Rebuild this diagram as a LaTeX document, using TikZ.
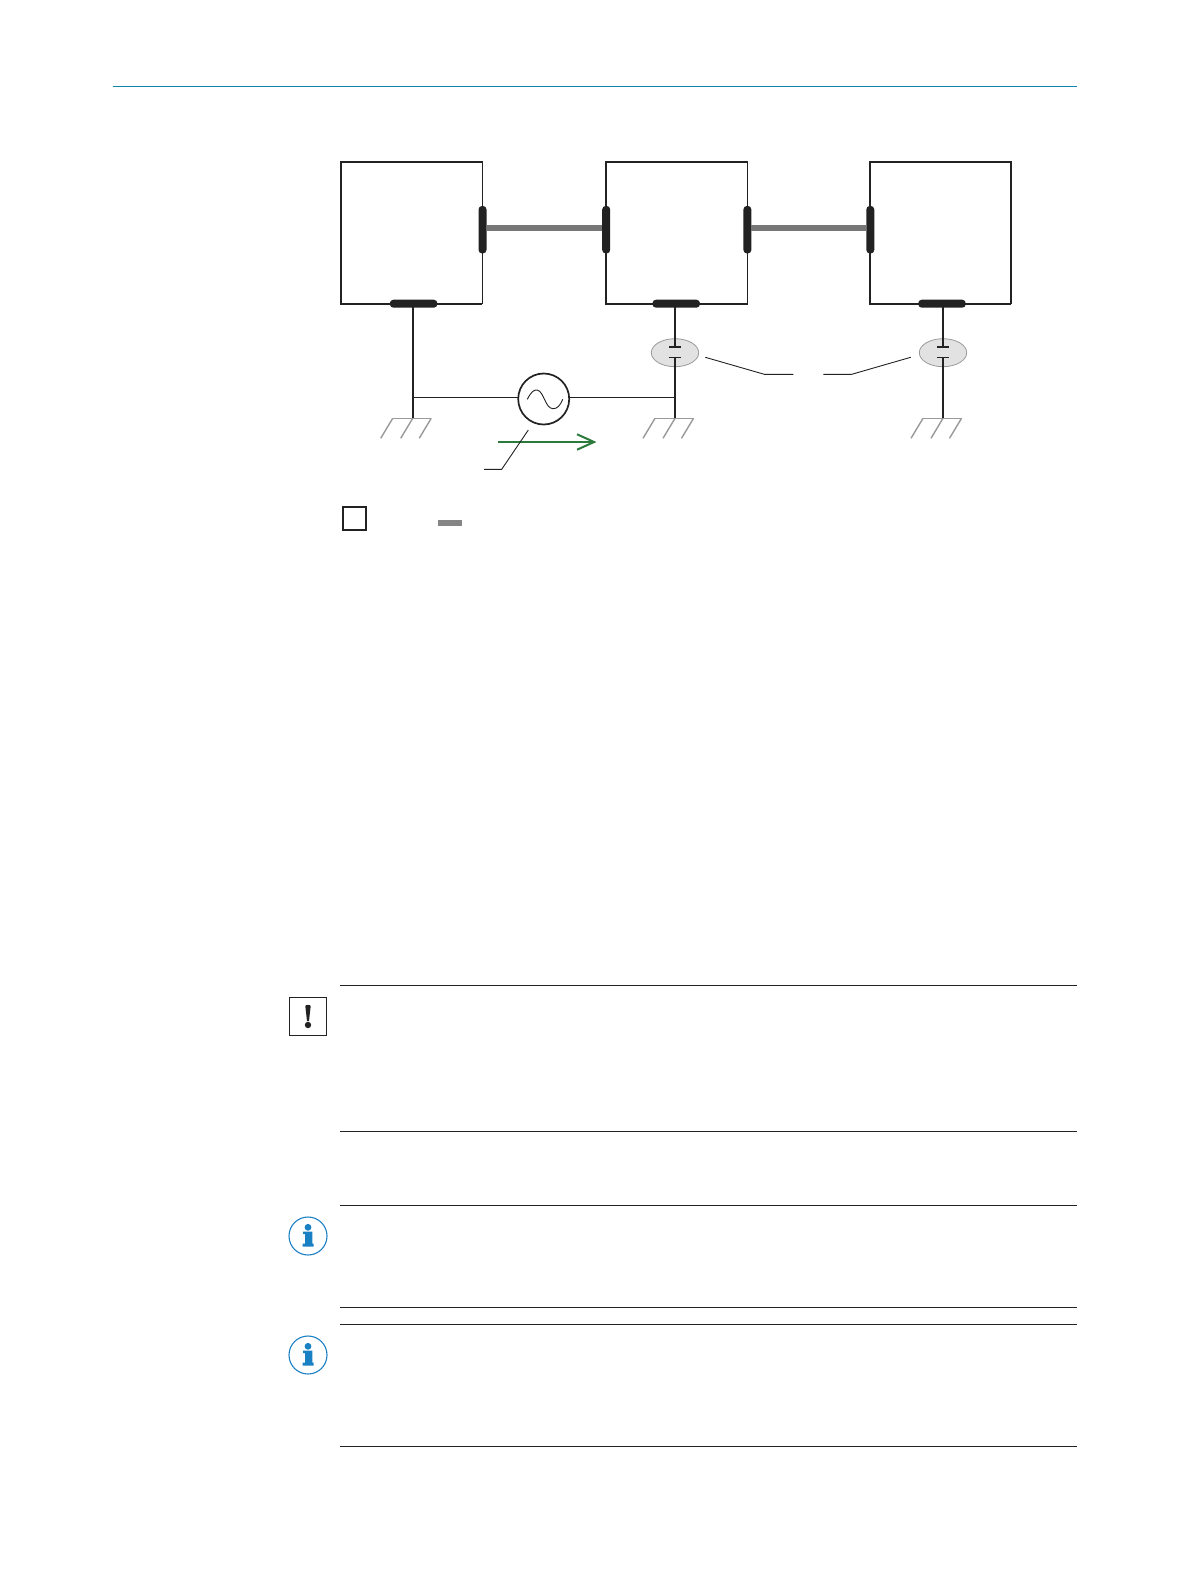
\documentclass[tikz,border=0pt]{standalone}
\usepackage{tikz}
\usetikzlibrary{arrows.meta,shapes.geometric}
\definecolor{inkblack}{HTML}{222222}
\definecolor{cablegray}{HTML}{777777}
\definecolor{earthgray}{HTML}{9A9A9A}
\definecolor{capfill}{HTML}{E2E2E2}
\definecolor{flowgreen}{HTML}{2B7A3B}
\definecolor{headblue}{HTML}{0F86A8}
\definecolor{infoblue}{HTML}{1A80C4}
\tikzstyle{unit} = [draw=inkblack,line width=0.65pt,minimum size=70.8pt,inner sep=0pt,outer sep=0pt]
\tikzstyle{frame} = [draw=inkblack,line width=1.1pt,line join=miter]
\tikzstyle{vport} = [fill=inkblack,rounded corners=1.8pt,minimum width=4pt,minimum height=23.8pt,inner sep=0pt,outer sep=0pt]
\tikzstyle{hport} = [fill=inkblack,rounded corners=1.8pt,minimum width=23.8pt,minimum height=4pt,inner sep=0pt,outer sep=0pt]
\tikzstyle{cable} = [draw=cablegray,line width=3pt]
\tikzstyle{lead} = [draw=inkblack,line width=1pt]
\tikzstyle{wire} = [draw=inkblack,line width=0.6pt]
\tikzstyle{leader} = [draw=inkblack,line width=0.45pt]
\tikzstyle{earth} = [draw=earthgray,line width=0.7pt]
\tikzstyle{capring} = [ellipse,draw=earthgray,fill=capfill,line width=0.4pt,minimum width=23.7pt,minimum height=14pt,inner sep=0pt,outer sep=0pt]
\tikzstyle{plate} = [fill=inkblack,minimum width=6pt,minimum height=0.8pt,inner sep=0pt,outer sep=0pt]
\tikzstyle{generator} = [circle,draw=inkblack,line width=0.85pt,minimum size=25.5pt,inner sep=0pt,outer sep=0pt]
\tikzstyle{flow} = [draw=flowgreen,line width=1pt,-{Straight Barb[length=8.5pt,width=7.7pt]}]
\tikzstyle{rule} = [draw=inkblack,line width=0.55pt]
\tikzstyle{hint} = [draw=infoblue,line width=0.55pt,minimum size=19pt,circle,inner sep=0pt,outer sep=0pt]
\begin{document}
\begin{tikzpicture}[x=0.5pt,y=-0.5pt]
	\useasboundingbox (0,0) rectangle (1191,1584);

	% page head and the rules round the notes
	\draw[headblue,line width=0.65pt] (113.3,86.5) -- (1077.3,86.5);
	\foreach \y in {985.5,1131.5,1205.5,1307.5,1324.5,1446.5}
	\draw[rule] (340,\y) -- (1077,\y);

	% First the three units
	\foreach \pos/\name in {{(411.5,232.8)/unita}, {(676.7,232.8)/unitb}, {(940.5,232.8)/unitc}}
	\node[unit] (\name) at \pos {};
	\foreach \name in {unita,unitb,unitc}
	\path[frame] (\name.north east) -- (\name.north west) -- (\name.south west) -- (\name.south east);
	\path[frame] (unitc.north east) -- (unitc.south east);

	% Ports on the sides and cables between them
	\foreach \pos/\name in {{(482.5,229.7)/porta}, {(606.2,229.7)/portb}, {(747.4,229.7)/portc}, {(870.3,229.7)/portd}}
	\node[vport] (\name) at \pos {};
	\coordinate (cableline) at (0,228);
	\foreach \source/\dest in {porta/portb, portc/portd}
	\path[cable] (\source.east |- cableline) -- (\dest.west |- cableline);

	% Ports below, then the capacitors
	\foreach \pos/\name in {{(413.6,303.7)/downa}, {(676.2,303.7)/downb}, {(942,303.7)/downc}}
	\node[hport] (\name) at \pos {};
	\foreach \x/\name in {675/b, 943/c}{
		\node[capring] (cap\name) at (\x,352.7) {};
		\node[plate] (upper\name) at (\x,347) {};
		\node[plate] (lower\name) at (\x,357.3) {};
	}

	% Earth symbols
	\foreach \x/\name in {412.7/a, 675/b, 943/c}{
		\coordinate (earth\name) at (\x,418.3);
		\draw[earth] ({\x-20},418.3) -- ({\x+18.5},418.3);
		\foreach \dx in {-20,0,18.5}
		\draw[earth] ({\x+\dx},418.3) -- ({\x+\dx-12},438.3);
	}
	\path[lead] (eartha) -- (eartha |- downa);
	\path[lead] (earthb) -- (lowerb);
	\path[lead] (upperb) -- (earthb |- downb);
	\path[lead] (earthc) -- (lowerc);
	\path[lead] (upperc) -- (earthc |- downc);

	% Generator with the wires to both sides
	\node[generator] (gen) at (543.7,399) {};
	\coordinate (joina) at (412.7,397.3);
	\coordinate (joinb) at (675,397.3);
	\path[wire] (joina) -- (gen.west |- joina);
	\path[wire] (gen.east |- joinb) -- (joinb);
	\draw[inkblack,line width=0.45pt] (527.3,399.3) .. controls (531,392) and (534,389.5) .. (537,390) .. controls (544,391) and (545,408.5) .. (553,408.7) .. controls (557,408.8) and (560,406) .. (562.7,399.3);

	% Current arrow
	\coordinate (flowa) at (498.3,442);
	\coordinate (flowb) at (596.5,442);
	\path[flow] (flowa) -- (flowb);

	% Leader lines
	\coordinate (tipa) at (528.3,430);
	\coordinate (kneea) at (501.7,469.3);
	\coordinate (enda) at (484,469.3);
	\path[leader] (tipa) -- (kneea) -- (enda);
	\coordinate (tipb) at (705.3,357.3);
	\coordinate (kneeb) at (764.3,374.3);
	\coordinate (endb) at (793.3,374.3);
	\path[leader] (tipb) -- (kneeb) -- (endb);
	\coordinate (tipc) at (910.7,357.3);
	\coordinate (kneec) at (851.7,374.3);
	\coordinate (endc) at (823.3,374.3);
	\path[leader] (tipc) -- (kneec) -- (endc);

	% Legend
	\node[draw=inkblack,line width=1pt,minimum size=11.5pt,inner sep=0pt,outer sep=0pt] (keybox) at (354.2,518.3) {};
	\node[fill=cablegray!90,minimum width=12pt,minimum height=3pt,inner sep=0pt,outer sep=0pt] (keycable) at (450,523) {};

	% Warning sign
	\node[draw=inkblack,line width=0.6pt,minimum size=18.7pt,inner sep=0pt,outer sep=0pt] (warn) at (308,1016.5) {};
	\fill[inkblack] (305.3,1006) .. controls (306,1004.5) and (310,1004.5) .. (310.7,1006) -- (309,1021) -- (307,1021) -- cycle;
	\fill[inkblack] (308,1025) circle (1.6pt);

	% Two info signs
	\foreach \name/\y in {infoa/1236, infob/1355}{
		\node[hint] (\name) at (308,\y) {};
		\fill[infoblue] (308,{\y-8.7}) circle (1.7pt);
		\fill[infoblue] (303,{\y-4.5}) -- (312.3,{\y-4.5}) -- (312.3,{\y+7.5}) -- (313.5,{\y+7.5}) -- (313.5,{\y+10.5}) -- (302.7,{\y+10.5}) -- (302.7,{\y+7.5}) -- (305,{\y+7.5}) -- (305,{\y-2}) -- (303,{\y-2}) -- cycle;
	}
\end{tikzpicture}
\end{document}
